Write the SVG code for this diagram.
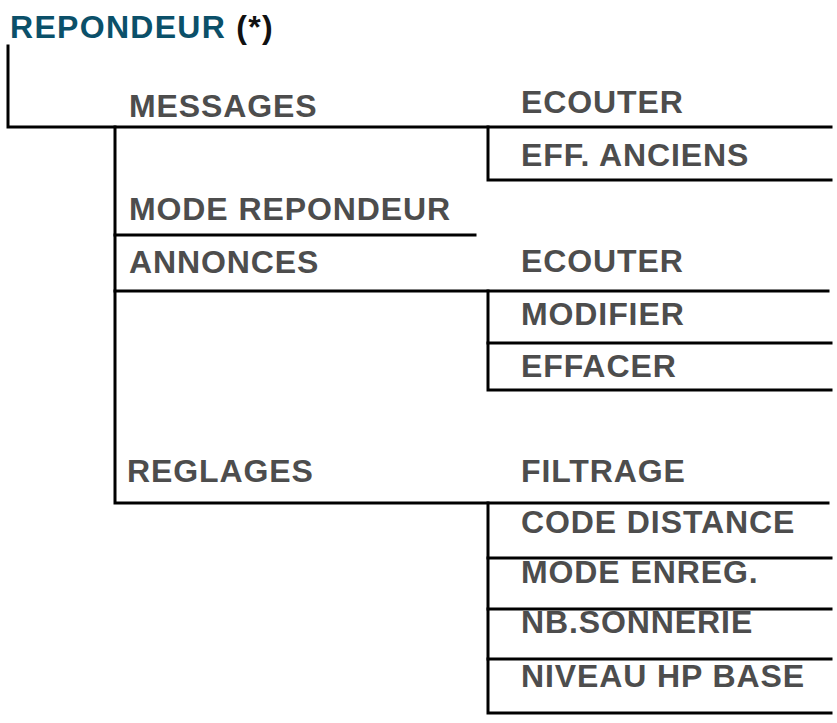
<svg xmlns="http://www.w3.org/2000/svg" width="837" height="723" viewBox="0 0 837 723">
<style>
.t{font-family:"Liberation Sans",Arial,sans-serif;font-weight:bold;font-size:32px;fill:#4d4d4d;letter-spacing:0.9px}
.title{font-family:"Liberation Sans",Arial,sans-serif;font-weight:bold;font-size:32px;fill:#0b5069;letter-spacing:1.3px}
.ln{stroke:#000;stroke-width:3;fill:none;stroke-linecap:square}
</style>
<rect width="837" height="723" fill="#fff"/>
<g id="connectors" class="ln">
<path d="M8,46V127H831"/>
<path d="M115,127V503H828"/>
<path d="M488,127V180H831"/>
<path d="M115,235H475"/>
<path d="M115,291H828"/>
<path d="M488,291V390H831"/>
<path d="M488,343H831"/>
<path d="M488,503V713H831"/>
<path d="M488,558H831"/>
<path d="M488,609H831"/>
<path d="M488,659H831"/>
</g>
<g id="repondeur"><text class="title" x="10" y="38">REPONDEUR <tspan fill="#111">(*)</tspan></text></g>
<g id="messages"><text class="t" x="129" y="117">MESSAGES</text></g>
<g id="messages-ecouter"><text class="t" x="521" y="113">ECOUTER</text></g>
<g id="eff-anciens"><text class="t" x="521" y="166">EFF. ANCIENS</text></g>
<g id="mode-repondeur"><text class="t" x="129" y="220">MODE REPONDEUR</text></g>
<g id="annonces"><text class="t" x="129" y="273">ANNONCES</text></g>
<g id="annonces-ecouter"><text class="t" x="521" y="272">ECOUTER</text></g>
<g id="modifier"><text class="t" x="521" y="325">MODIFIER</text></g>
<g id="effacer"><text class="t" x="521" y="377">EFFACER</text></g>
<g id="reglages"><text class="t" x="127" y="482">REGLAGES</text></g>
<g id="filtrage"><text class="t" x="521" y="482">FILTRAGE</text></g>
<g id="code-distance"><text class="t" x="521" y="533">CODE DISTANCE</text></g>
<g id="mode-enreg"><text class="t" x="521" y="583">MODE ENREG.</text></g>
<g id="nb-sonnerie"><text class="t" x="521" y="633">NB.SONNERIE</text></g>
<g id="niveau-hp-base"><text class="t" x="521" y="687">NIVEAU HP BASE</text></g>
</svg>
